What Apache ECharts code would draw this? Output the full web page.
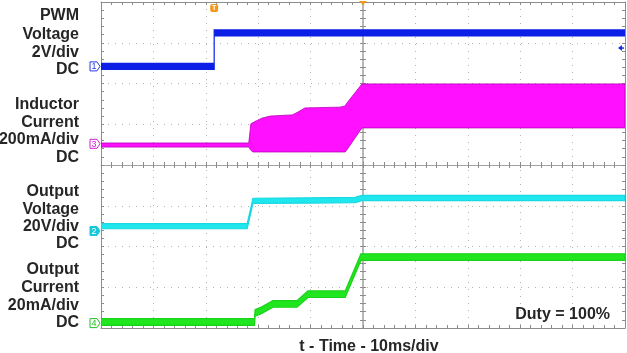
<!DOCTYPE html>
<html><head><meta charset="utf-8">
<script src="https://cdn.jsdelivr.net/npm/echarts@6/dist/echarts.min.js"></script>
<style>html,body{margin:0;padding:0;background:#fff}#c{width:627px;height:353px}</style>
</head><body><div id="c"></div>
<script>
// time in ms (10 ms/div), values in screen divisions (0..8 from bottom)
const pwmTime   = [0, 21.6, 21.6, 100];
const pwmValue  = [6.42, 6.42, 7.24, 7.24];

const indTime   = [0, 28.2, 28.6, 29.0, 29.6, 30.7, 32.3, 36.5, 37.6, 38.9, 45.6, 46.6, 46.8, 49.8, 100];
const indUpper  = [4.54, 4.54, 5.01, 5.04, 5.08, 5.15, 5.20, 5.23, 5.30, 5.40, 5.42, 5.45, 5.50, 5.99, 5.99];
const indLower  = [4.44, 4.44, 4.36, 4.32, 4.32, 4.32, 4.32, 4.32, 4.32, 4.32, 4.32, 4.32, 4.35, 4.91, 4.91];

const voutTime  = [0, 27.9, 29.0, 40, 48.5, 49.8, 100];
const voutValue = [2.50, 2.50, 3.12, 3.13, 3.14, 3.19, 3.19];

const ioutTime  = [0, 29.3, 29.4, 30.7, 32.8, 37.4, 39.5, 46.6, 49.6, 100];
const ioutValue = [0.147, 0.147, 0.368, 0.44, 0.59, 0.59, 0.83, 0.83, 1.74, 1.74];

const chLabels = [
  ['PWM','Voltage','2V/div','DC'],
  ['Inductor','Current','200mA/div','DC'],
  ['Output','Voltage','20V/div','DC'],
  ['Output','Current','20mA/div','DC']
];
const xTitle = 't - Time - 10ms/div';
const note = 'Duty = 100%';
const groundLevels = [6.42, 4.52, 2.38, 0.12];
const groundNames = ['1','3','2','4'];

const chart = echarts.init(document.getElementById('c'), null, {renderer: 'canvas'});
const FONT = '"Liberation Sans", Arial, sans-serif';
const TXT = '#262626';
const FRAME = '#8c8c8c';

function xAx(extra) {
  return Object.assign({
    type: 'value', min: 0, max: 100, interval: 10,
    axisLine: {show: true, onZero: false, lineStyle: {color: FRAME, width: 1}},
    axisTick: {show: true, inside: true, length: 3, lineStyle: {color: FRAME}},
    minorTick: {show: true, splitNumber: 5, length: 3, lineStyle: {color: FRAME}},
    axisLabel: {show: false}, splitLine: {show: false}
  }, extra);
}
function yAx(extra) {
  return Object.assign({
    type: 'value', min: 0, max: 8, interval: 1,
    axisLine: {show: true, onZero: false, lineStyle: {color: FRAME, width: 1}},
    axisTick: {show: true, inside: true, length: 3, lineStyle: {color: FRAME}},
    minorTick: {show: true, splitNumber: 5, length: 3, lineStyle: {color: FRAME}},
    axisLabel: {show: false}, splitLine: {show: false}
  }, extra);
}

// a noisy scope trace drawn as a band of constant vertical thickness (px) around its centre values
function traceBand(name, times, values, halfPx, fill, stroke) {
  return {
    type: 'custom', name: name, xAxisIndex: 0, yAxisIndex: 0,
    data: [[0, 0]], clip: true, z: 4,
    renderItem: function (params, api) {
      const up = [], lo = [];
      for (let i = 0; i < times.length; i++) {
        const p = api.coord([times[i], values[i]]);
        up.push([p[0], p[1] - halfPx]);
        lo.unshift([p[0], p[1] + halfPx]);
      }
      return {type: 'polygon', shape: {points: up.concat(lo)},
        style: {fill: fill, stroke: stroke, lineWidth: 1.2}};
    }
  };
}

const option = {
  animation: false,
  backgroundColor: '#fff',
  grid: {left: 101, top: 2, width: 524, height: 326, containLabel: false},
  xAxis: [
    xAx({position: 'bottom', splitLine: {show: true, lineStyle: {color: '#b4b4b4', type: [1, 6], width: 1}}}),
    xAx({position: 'top'}),
    xAx({position: 'bottom', offset: -163, axisLine: {show: true, onZero: false, lineStyle: {color: '#a0a0a0', width: 1}}}),
    xAx({position: 'bottom', offset: -163, axisLine: {show: false}, axisTick: {show: true, inside: false, length: 3, lineStyle: {color: FRAME}}})
  ],
  yAxis: [
    yAx({position: 'left', splitLine: {show: true, lineStyle: {color: '#b4b4b4', type: [1, 6], width: 1}}}),
    yAx({position: 'right'}),
    yAx({position: 'left', offset: -262, axisLine: {show: true, onZero: false, lineStyle: {color: '#b8b8b8', width: 2}}}),
    yAx({position: 'left', offset: -262, axisLine: {show: false}, axisTick: {show: true, inside: false, length: 3, lineStyle: {color: FRAME}}})
  ],
  series: [
    {
      type: 'custom', name: 'Inductor Current', xAxisIndex: 0, yAxisIndex: 0,
      data: [[0, 0]], clip: true, z: 3,
      renderItem: function (params, api) {
        const pts = [];
        for (let i = 0; i < indTime.length; i++) pts.push(api.coord([indTime[i], indUpper[i]]));
        for (let i = indTime.length - 1; i >= 0; i--) pts.push(api.coord([indTime[i], indLower[i]]));
        return {type: 'polygon', shape: {points: pts},
          style: {fill: '#ff10ff', stroke: '#b800b8', lineWidth: 0.8}};
      }
    },
    traceBand('PWM Voltage', pwmTime, pwmValue, 3, '#0c1fe6', '#0c1fe6'),
    traceBand('Output Voltage', voutTime, voutValue, 2.6, '#1ee8ee', '#1ad8e0'),
    traceBand('Output Current', ioutTime, ioutValue, 3.3, '#1fe61f', '#1ad21a')
  ]
};
chart.setOption(option);

// annotations
const graphics = [];
const labelY = [[16, 34.5, 52.5, 70], [105, 122.5, 140, 157.5], [191.5, 209.5, 227, 244], [270, 287.5, 305.5, 323]];
chLabels.forEach((blk, b) => blk.forEach((t, i) => graphics.push({
  type: 'text', x: 79, y: labelY[b][i],
  style: {text: t, font: 'bold 16px ' + FONT, fill: TXT, textAlign: 'right', textVerticalAlign: 'middle'}
})));
graphics.push({type: 'text', x: 369, y: 347, style: {text: xTitle, font: 'bold 16px ' + FONT, fill: TXT, textAlign: 'center', textVerticalAlign: 'middle'}});
graphics.push({type: 'text', x: 610, y: 315, style: {text: note, font: 'bold 16px ' + FONT, fill: TXT, textAlign: 'right', textVerticalAlign: 'middle'}});

const gColors = ['#2a3be6', '#d020d0', '#18c8d8', '#22c022'];
groundLevels.forEach((lv, k) => {
  const p = chart.convertToPixel({xAxisIndex: 0, yAxisIndex: 0}, [0, lv]);
  const cx = p[0] - 6, cy = p[1];
  const filled = k === 2;
  graphics.push({type: 'polygon', shape: {points: [[cx - 5, cy - 4.5], [cx + 2, cy - 4.5], [cx + 5, cy], [cx + 2, cy + 4.5], [cx - 5, cy + 4.5]]},
    style: {fill: filled ? gColors[k] : '#fff', stroke: gColors[k], lineWidth: 1}, z: 10});
  graphics.push({type: 'text', x: cx - 1, y: cy + 0.5, z: 11,
    style: {text: groundNames[k], font: '9px ' + FONT, fill: filled ? '#fff' : gColors[k], textAlign: 'center', textVerticalAlign: 'middle'}});
});
// trigger time marker
const tp = chart.convertToPixel({xAxisIndex: 0, yAxisIndex: 0}, [21.6, 8]);
graphics.push({type: 'rect', shape: {x: tp[0] - 4, y: 4, width: 8, height: 8, r: 2}, style: {fill: '#f39a1e'}, z: 10});
graphics.push({type: 'text', x: tp[0], y: 8.5, z: 11, style: {text: 'T', font: 'bold 7px ' + FONT, fill: '#fff', textAlign: 'center', textVerticalAlign: 'middle'}});
const cp = chart.convertToPixel({xAxisIndex: 0, yAxisIndex: 0}, [50, 8]);
graphics.push({type: 'polygon', shape: {points: [[cp[0] - 4, 1], [cp[0] + 4, 1], [cp[0], 5]]}, style: {fill: '#f39a1e'}, z: 10});
// trigger level arrow
const lp = chart.convertToPixel({xAxisIndex: 0, yAxisIndex: 0}, [100, 6.87]);
graphics.push({type: 'polygon', shape: {points: [[lp[0] - 7, lp[1]], [lp[0] - 3, lp[1] - 3], [lp[0] - 3, lp[1] + 3]]}, style: {fill: '#1a2ee6'}, z: 10});
graphics.push({type: 'line', shape: {x1: lp[0] - 4, y1: lp[1], x2: lp[0] - 1, y2: lp[1]}, style: {stroke: '#1a2ee6', lineWidth: 1.5}, z: 10});
chart.setOption({graphic: graphics});
</script></body></html>
